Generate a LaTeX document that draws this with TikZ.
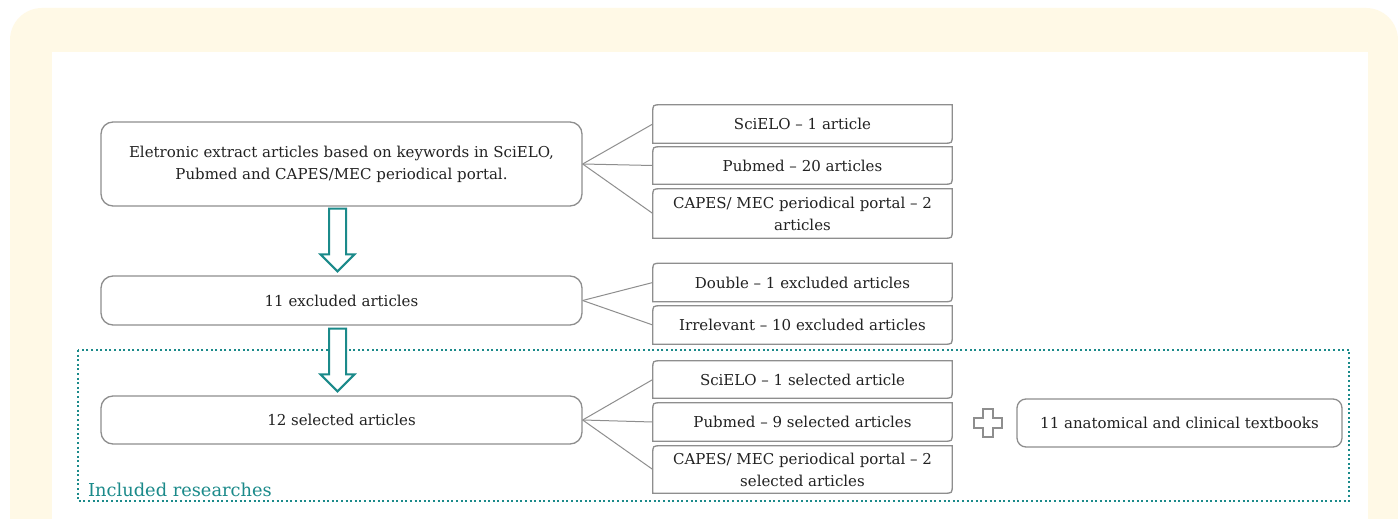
\documentclass[tikz,border=0pt]{standalone}
\usepackage{fontspec}
\setmainfont{DejaVu Serif}
\usetikzlibrary{calc}
\definecolor{bgyellow}{HTML}{FFF9E6}
\definecolor{tealc}{HTML}{1B8A8A}
\definecolor{boxgray}{HTML}{8E8E8E}
\definecolor{txt}{HTML}{222222}
\tikzset{
  boxline/.style={draw=boxgray, line width=1.3pt},
  mainbox/.style={boxline, rounded corners=12pt, minimum width=481pt, inner sep=0pt, align=center, text=txt, font=\fontsize{15}{22}\selectfont},
  diagbox/.style={minimum width=299pt, inner sep=0pt, align=center, text=txt, font=\fontsize{15}{22}\selectfont},
  fanline/.style={draw=boxgray, line width=1pt},
  blockarrow/.style={draw=tealc, line width=2pt, fill=white, line join=miter},
}
\begin{document}
\begin{tikzpicture}[x=1pt,y=-1pt]
\useasboundingbox (0,0) rectangle (1398,519);
\clip (0,0) rectangle (1398,519);
\fill[white] (0,0) rectangle (1398,519);
\fill[bgyellow, rounded corners=32pt] (10,8) rectangle (1398,600);
\fill[white] (52,52) rectangle (1368,560);

% main boxes
\node[mainbox, minimum height=84pt] (m1) at (341.5,164) {Eletronic extract articles based on keywords in SciELO,\\Pubmed and CAPES/MEC periodical portal.};
\node[mainbox, minimum height=49pt] (m2) at (341.5,300.5) {11 excluded articles};
\node[mainbox, minimum height=48pt] (m3) at (341.5,420) {12 selected articles};

% right boxes
\node[diagbox, minimum height=38pt] (s1) at (802.5,124) {SciELO -- 1 article};
\node[diagbox, minimum height=37pt] (s2) at (802.5,165.5) {Pubmed -- 20 articles};
\node[diagbox, minimum height=49pt] (s3) at (802.5,213.5) {CAPES/ MEC periodical portal -- 2\\articles};
\node[diagbox, minimum height=38pt] (d1) at (802.5,282.5) {Double -- 1 excluded articles};
\node[diagbox, minimum height=38pt] (d2) at (802.5,325) {Irrelevant -- 10 excluded articles};
\node[diagbox, minimum height=37pt] (t1) at (802.5,379.5) {SciELO -- 1 selected article};
\node[diagbox, minimum height=38pt] (t2) at (802.5,422) {Pubmed -- 9 selected articles};
\node[diagbox, minimum height=47pt] (t3) at (802.5,469.5) {CAPES/ MEC periodical portal -- 2\\selected articles};

% round-diagonal-corner outlines (top-left and bottom-right rounded)
\foreach \n in {s1,s2,s3,d1,d2,t1,t2,t3}{
  \draw[boxline] (\n.north east) -- ([yshift=8pt]\n.south east)
    .. controls (\n.south east) .. ([xshift=-8pt]\n.south east)
    -- (\n.south west) -- ([yshift=-8pt]\n.north west)
    .. controls (\n.north west) .. ([xshift=8pt]\n.north west) -- cycle;
}

% textbooks box
\node[mainbox, rounded corners=9pt, minimum width=325pt, minimum height=48pt] (tb) at (1179.5,423) {11 anatomical and clinical textbooks};

% fan connectors
\foreach \n in {s1,s2,s3} \draw[fanline] (m1.east) -- (\n.west);
\foreach \n in {d1,d2} \draw[fanline] (m2.east) -- (\n.west);
\foreach \n in {t1,t2,t3} \draw[fanline] (m3.east) -- (\n.west);

% dotted included box
\draw[draw=tealc, line width=2pt, dash pattern=on 2pt off 2.6pt] (78,350) rectangle (1349,501);
\node[anchor=base west, inner sep=0pt, text=tealc, font=\fontsize{17.8}{22}\selectfont] (inc) at (88,496) {Included researches};

% block arrows
\coordinate (a1s) at ($(m1.south)+(-4,2)$);
\coordinate (a1e) at ($(m2.north)+(-4,-4)$);
\coordinate (a2s) at ($(m2.south)+(-4,3)$);
\coordinate (a2e) at ($(m3.north)+(-4,-4)$);
\foreach \s/\e in {a1s/a1e, a2s/a2e}{
  \draw[blockarrow] ($(\s)+(-8.5,0)$) -- ($(\s)+(8.5,0)$) -- ($(\e)+(8.5,-17)$) -- ($(\e)+(17,-17)$)
    -- (\e) -- ($(\e)+(-17,-17)$) -- ($(\e)+(-8.5,-17)$) -- cycle;
}

% plus sign
\draw[draw=boxgray, line width=1.2pt] (983,409) -- (993,409) -- (993,418) -- (1002,418) -- (1002,428) -- (993,428) -- (993,437) -- (983,437) -- (983,428) -- (974,428) -- (974,418) -- (983,418) -- cycle;
\end{tikzpicture}
\end{document}
